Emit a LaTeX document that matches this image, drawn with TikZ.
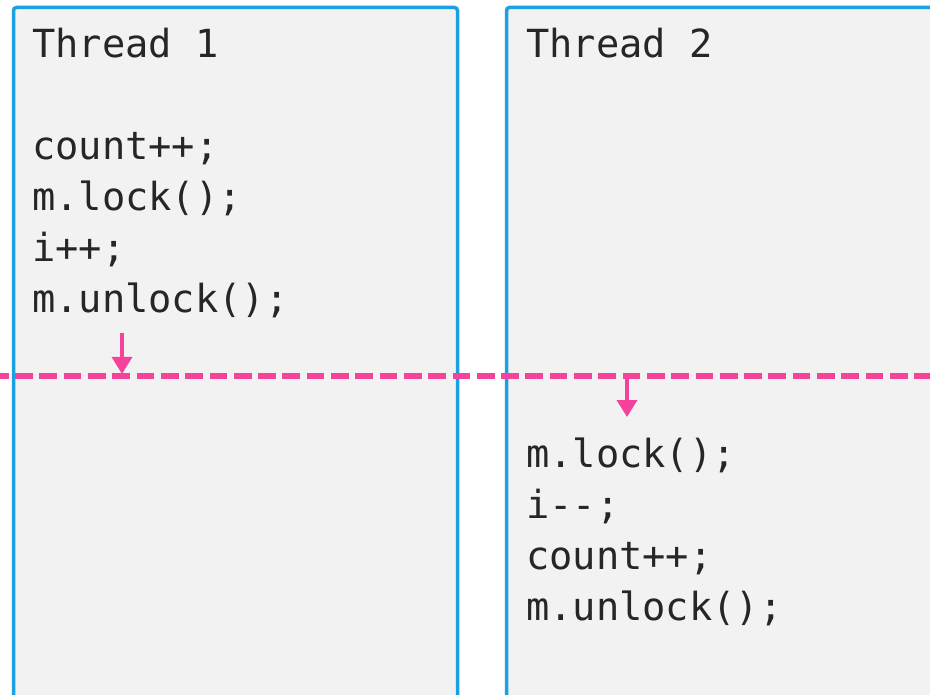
\documentclass[tikz,border=0pt]{standalone}
\usepackage{fontspec}
\setmonofont{DejaVu Sans Mono}
\usetikzlibrary{arrows.meta}
\definecolor{laneblue}{HTML}{1BA1E2}
\definecolor{lanefill}{HTML}{F2F2F2}
\definecolor{syncpink}{HTML}{F5429B}
\definecolor{codegray}{HTML}{262626}
\begin{document}
\begin{tikzpicture}[x=1pt,y=-1pt,
  lane/.style={draw=laneblue, fill=lanefill, line width=3.5pt, rounded corners=3pt},
  code/.style={anchor=base west, inner sep=0pt, font=\fontsize{38.7}{51}\ttfamily, text=codegray},
  sync/.style={draw=syncpink, line width=6pt, dash pattern=on 17.7pt off 6.6pt, dash phase=9.2pt},
  signal/.style={draw=syncpink, line width=3.5pt, -{Triangle[width=20pt,length=17pt]}}]
  \useasboundingbox (0,0) rectangle (930,695);
  \clip (0,0) rectangle (930,695);
  \fill[white] (0,0) rectangle (930,695);

  % thread lanes (open at the bottom / right edge)
  \path[lane] (13.5,7.5) rectangle (457.5,740);
  \path[lane] (506.5,7.5) rectangle (980,740);

  % thread 1 code
  \node[code] (t1title)  at (32,58)  {Thread 1};
  \node[code] (t1count)  at (32,160) {count++;};
  \node[code] (t1lock)   at (32,211) {m.lock();};
  \node[code] (t1inc)    at (32,262) {i++;};
  \node[code] (t1unlock) at (32,313) {m.unlock();};

  % thread 2 code
  \node[code] (t2title)  at (526,58)  {Thread 2};
  \node[code] (t2lock)   at (526,467) {m.lock();};
  \node[code] (t2dec)    at (526,518) {i--;};
  \node[code] (t2count)  at (526,569) {count++;};
  \node[code] (t2unlock) at (526,620) {m.unlock();};

  % synchronisation line
  \coordinate (syncL) at (0,376);
  \coordinate (syncR) at (930,376);
  \draw[sync] (syncL) -- (syncR);

  % release / acquire arrows
  \coordinate (relFrom) at (122,333);
  \coordinate (relTo)   at (122,374);
  \coordinate (acqFrom) at (627,375);
  \coordinate (acqTo)   at (627,417);
  \draw[signal] (relFrom) -- (relTo);
  \draw[signal] (acqFrom) -- (acqTo);
\end{tikzpicture}
\end{document}
